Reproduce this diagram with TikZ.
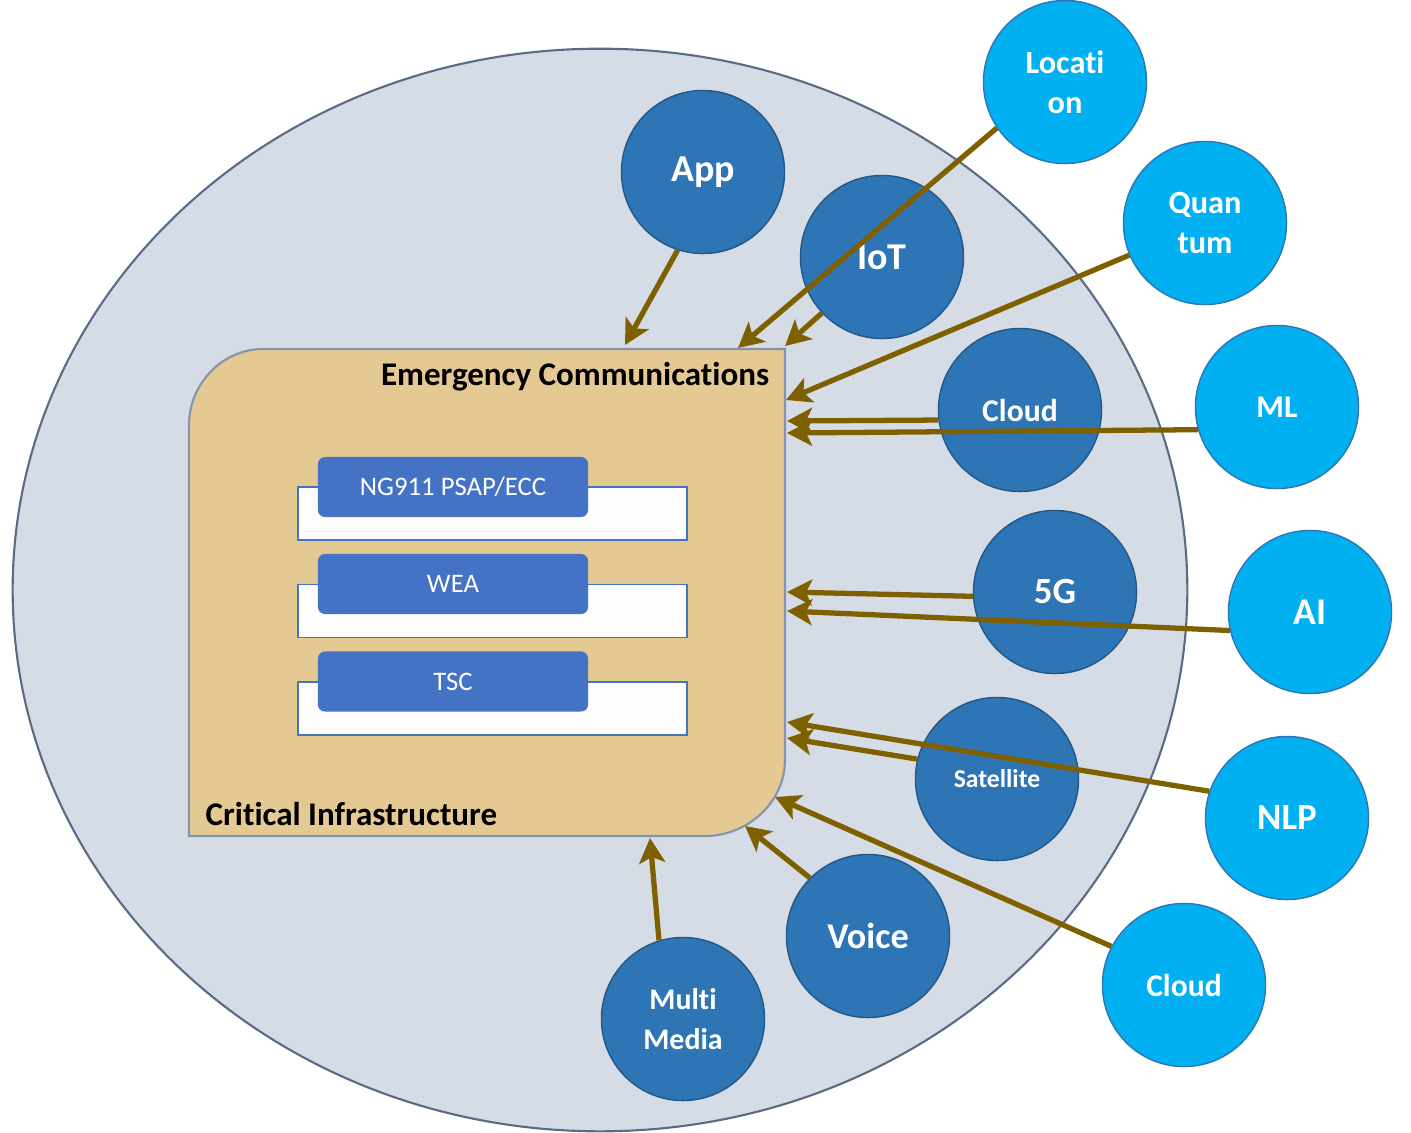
\documentclass[tikz,border=0pt]{standalone}
\usepackage{fontspec}
\setmainfont{Carlito}[Ligatures={NoCommon,NoRequired,NoContextual,NoRare},Contextuals=NoAlternate]
\usetikzlibrary{arrows.meta,shapes.geometric}
\definecolor{ringfill}{HTML}{D6DCE5}
\definecolor{ringline}{HTML}{5A6B86}
\definecolor{darkblue}{HTML}{2E75B6}
\definecolor{lightblue}{HTML}{00B0F0}
\definecolor{arrowbrown}{HTML}{7F6000}
\definecolor{papyrus}{HTML}{E4C992}
\definecolor{boxline}{HTML}{8494AE}
\definecolor{boxblue}{HTML}{4472C4}
\begin{document}
\begin{tikzpicture}[x=0.01cm, y=-0.01cm,
	inner/.style = {circle, draw=darkblue!75!black, line width=0.4pt, fill=darkblue, text=white, minimum size=1.63cm, inner sep=0pt, align=center},
	outer/.style = {inner, fill=lightblue, draw=darkblue},
	txt/.style = {font=\bfseries\fontsize{#1}{11.5}\selectfont},
	feed/.style = {draw=arrowbrown, line width=1.5pt, -{Stealth[length=0.25cm,width=0.26cm,inset=0.06cm]}},
	bar/.style = {draw=boxblue, line width=0.5pt, fill=white!96!papyrus, minimum width=3.89cm, minimum height=0.53cm, inner sep=0pt},
	tag/.style = {rounded corners=0.07cm, fill=boxblue, text=white, font=\fontsize{7.6}{9}\selectfont, minimum width=2.7cm, minimum height=0.6cm, inner sep=0pt}]
	\useasboundingbox (0,0) rectangle (1411,1132);
	\node[ellipse, draw=ringline, fill=ringfill, line width=0.6pt, minimum width=11.74cm, minimum height=10.82cm] (ring) at (600,590) {};
	\draw[draw=boxline, fill=papyrus, line width=0.6pt] (189,836) -- (189,425) .. controls (189,384) and (222,349) .. (263,349) -- (785,349) -- (785,760) .. controls (785,802) and (748,836) .. (705,836) -- cycle;
	\node[txt=9.4, anchor=east, inner sep=0pt] (emc) at (770,377) {Emergency Communications};
	\node[txt=9.4, anchor=west, inner sep=0pt] (cinf) at (205,814) {Critical Infrastructure};
	\node[bar] (bar1) at (492.5,513.5) {};
	\node[bar] (bar2) at (492.5,611) {};
	\node[bar] (bar3) at (492.5,708.5) {};
	\node[tag] (ng) at (453,487) {NG911 PSAP/ECC};
	\node[tag] (wea) at (453,584) {WEA};
	\node[tag] (tsc) at (453,681.5) {TSC};
	\node[inner, txt=10.8] (app) at (703,172) {App};
	\node[inner, txt=10.8] (iot) at (882,257) {IoT};
	\node[outer, txt=9.2] (loc) at (1065,82) {Locati\\on};
	\node[outer, txt=9.2] (quan) at (1205,223) {Quan\\tum};
	\node[inner, txt=9] (cloudin) at (1020,410) {Cloud};
	\node[outer, txt=9] (ml) at (1277,407) {ML};
	\node[inner, txt=10.5] (fiveg) at (1055,592) {5G};
	\node[outer, txt=10.7] (ai) at (1310,612) {AI};
	\node[inner, txt=7.3] (sat) at (997,779) {Satellite};
	\node[outer, txt=10.5] (nlp) at (1287,818) {NLP};
	\node[outer, txt=9] (cloudout) at (1184,985) {Cloud};
	\node[inner, txt=10.3] (voice) at (868,936) {Voice};
	\node[inner, txt=8.5] (media) at (683,1019) {Multi\\Media};
	\coordinate (t1) at (625,345);
	\coordinate (t2) at (738,348);
	\coordinate (t3) at (785,346);
	\coordinate (t4) at (786,400);
	\coordinate (t5) at (787,421);
	\coordinate (t6) at (787,433);
	\coordinate (t7) at (787,592);
	\coordinate (t8) at (787,611);
	\coordinate (t9) at (787,738);
	\coordinate (t10) at (787,722);
	\coordinate (t11) at (775,797);
	\coordinate (t12) at (745,826);
	\coordinate (t13) at (650,838);
	\draw[feed] (app.252) -- (t1);
	\draw[feed] (loc.214) -- (t2);
	\draw[feed] (iot.223) -- (t3);
	\draw[feed] (quan.203) -- (t4);
	\draw[feed] (cloudin.187) -- (t5);
	\draw[feed] (ml.196) -- (t6);
	\draw[feed] (fiveg.183) -- (t7);
	\draw[feed] (ai.193) -- (t8);
	\draw[feed] (sat.166) -- (t9);
	\draw[feed] (nlp.161) -- (t10);
	\draw[feed] (cloudout.152) -- (t11);
	\draw[feed] (voice.135) -- (t12);
	\draw[feed] (media.107) -- (t13);
\end{tikzpicture}
\end{document}
